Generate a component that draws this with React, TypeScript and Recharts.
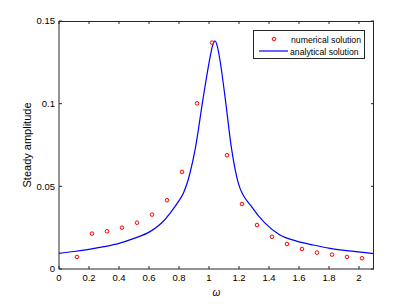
import React from 'react';
import { ComposedChart, Line, Scatter, XAxis, YAxis } from 'recharts';

const numX = [0.12, 0.22, 0.32, 0.42, 0.52, 0.62, 0.72, 0.82, 0.92, 1.02, 1.12, 1.22, 1.32, 1.42, 1.52, 1.62, 1.72, 1.82, 1.92, 2.02];
const numY = [0.0073, 0.0214, 0.0228, 0.025, 0.028, 0.0329, 0.0416, 0.0587, 0.1002, 0.1369, 0.0688, 0.0393, 0.0266, 0.0195, 0.0151, 0.0121, 0.0099, 0.0087, 0.0073, 0.0065];

const anaX = [0, 0.1, 0.2, 0.3, 0.4, 0.5, 0.607, 0.68, 0.74, 0.79, 0.829, 0.873, 0.907, 0.962, 1.007, 1.022, 1.04, 1.056, 1.073, 1.107, 1.15, 1.196, 1.284, 1.37, 1.473, 1.584, 1.696, 1.807, 1.918, 2.1];
const anaY = [0.0095, 0.0106, 0.0119, 0.0135, 0.0155, 0.0185, 0.0226, 0.0275, 0.0337, 0.04, 0.0458, 0.0579, 0.072, 0.104, 0.128, 0.1345, 0.138, 0.1345, 0.1264, 0.104, 0.073, 0.0518, 0.0377, 0.028, 0.0206, 0.0169, 0.0145, 0.0125, 0.0111, 0.0093];

const xTicks = [0, 0.2, 0.4, 0.6, 0.8, 1, 1.2, 1.4, 1.6, 1.8, 2];
const yTicks = [0, 0.05, 0.1, 0.15];
const xMax = 2.1;
const yMax = 0.15;

const numData = numX.map((x, i) => ({ x, y: numY[i] }));
const anaData = anaX.map((x, i) => ({ x, y: anaY[i] }));

const W = 417;
const H = 304;
const PL = 59;
const PT = 21;
const PW = 315;
const PH = 248;
const XAXIS_H = 20;
const YAXIS_W = 59;

const FONT = 'Liberation Sans, Arial, sans-serif';
const AX = '#262626';

const RedCircle = (props: any) => {
  const { cx, cy } = props;
  if (cx == null || cy == null) return <g />;
  return <circle cx={cx} cy={cy} r={1.8} fill="none" stroke="#ff0000" strokeWidth={1} />;
};

const fmt = (v: number) => String(v);

const Frame = () => {
  const sx = (v: number) => PL + (v / xMax) * PW;
  const sy = (v: number) => PT + PH - (v / yMax) * PH;
  return (
    <svg width={W} height={H} style={{ position: 'absolute', left: 0, top: 0, pointerEvents: 'none' }}>
      <line x1={PL} y1={PT + 0.5} x2={PL + PW} y2={PT + 0.5} stroke={AX} strokeWidth={1} />
      <line x1={PL + PW - 0.5} y1={PT} x2={PL + PW - 0.5} y2={PT + PH} stroke={AX} strokeWidth={1} />
      {xTicks.map((t) => (
        <line key={'tx' + t} x1={sx(t)} y1={PT} x2={sx(t)} y2={PT + 3} stroke={AX} strokeWidth={1} />
      ))}
      {yTicks.map((t) => (
        <line key={'ty' + t} x1={PL + PW - 3} y1={sy(t)} x2={PL + PW} y2={sy(t)} stroke={AX} strokeWidth={1} />
      ))}
    </svg>
  );
};

export default function App() {
  return (
    <div style={{ position: 'absolute', left: 0, top: 0, width: W, height: H, background: '#fff' }}>
      <ComposedChart
        width={W}
        height={H}
        margin={{ top: PT, right: W - PL - PW, left: PL - YAXIS_W, bottom: H - PT - PH - XAXIS_H }}
      >
        <XAxis
          type="number"
          dataKey="x"
          domain={[0, xMax]}
          ticks={xTicks}
          tickFormatter={fmt}
          height={XAXIS_H}
          allowDataOverflow
          stroke={AX}
          tickSize={-3}
          tickMargin={8}
          tick={{ fontSize: 9.5, fontFamily: FONT, fill: '#000' }}
          label={{ value: 'ω', position: 'bottom', offset: 0, style: { fontSize: 10, fontStyle: 'italic', fontFamily: FONT, fill: '#000' } }}
        />
        <YAxis
          type="number"
          dataKey="y"
          domain={[0, yMax]}
          ticks={yTicks}
          tickFormatter={fmt}
          width={YAXIS_W}
          allowDataOverflow
          stroke={AX}
          tickSize={-3}
          tickMargin={7}
          tick={{ fontSize: 9.5, fontFamily: FONT, fill: '#000' }}
          label={{ value: 'Steady amplitude', angle: -90, position: 'insideLeft', offset: 27, style: { textAnchor: 'middle', fontSize: 11, fontFamily: FONT, fill: '#000' } }}
        />
        <Line
          data={anaData}
          dataKey="y"
          type="monotone"
          stroke="#0000ff"
          strokeWidth={1.2}
          dot={false}
          activeDot={false}
          isAnimationActive={false}
        />
        <Scatter
          data={numData}
          dataKey="y"
          shape={RedCircle}
          isAnimationActive={false}
        />
      </ComposedChart>
      <Frame />
      <div style={{ position: 'absolute', left: 253, top: 30, width: 112, height: 29 }}>
        <svg width={112} height={29} style={{ display: 'block' }}>
          <rect x={0.5} y={0.5} width={111} height={28} fill="#fff" stroke={AX} strokeWidth={1} />
          <circle cx={21} cy={9} r={1.8} fill="none" stroke="#ff0000" strokeWidth={1} />
          <text x={38} y={12.5} fontSize={8.7} fontFamily={FONT} fill="#000">numerical solution</text>
          <line x1={6} y1={21} x2={35} y2={21} stroke="#0000ff" strokeWidth={1.2} />
          <text x={37} y={24.5} fontSize={8.7} fontFamily={FONT} fill="#000">analytical solution</text>
        </svg>
      </div>
    </div>
  );
}
